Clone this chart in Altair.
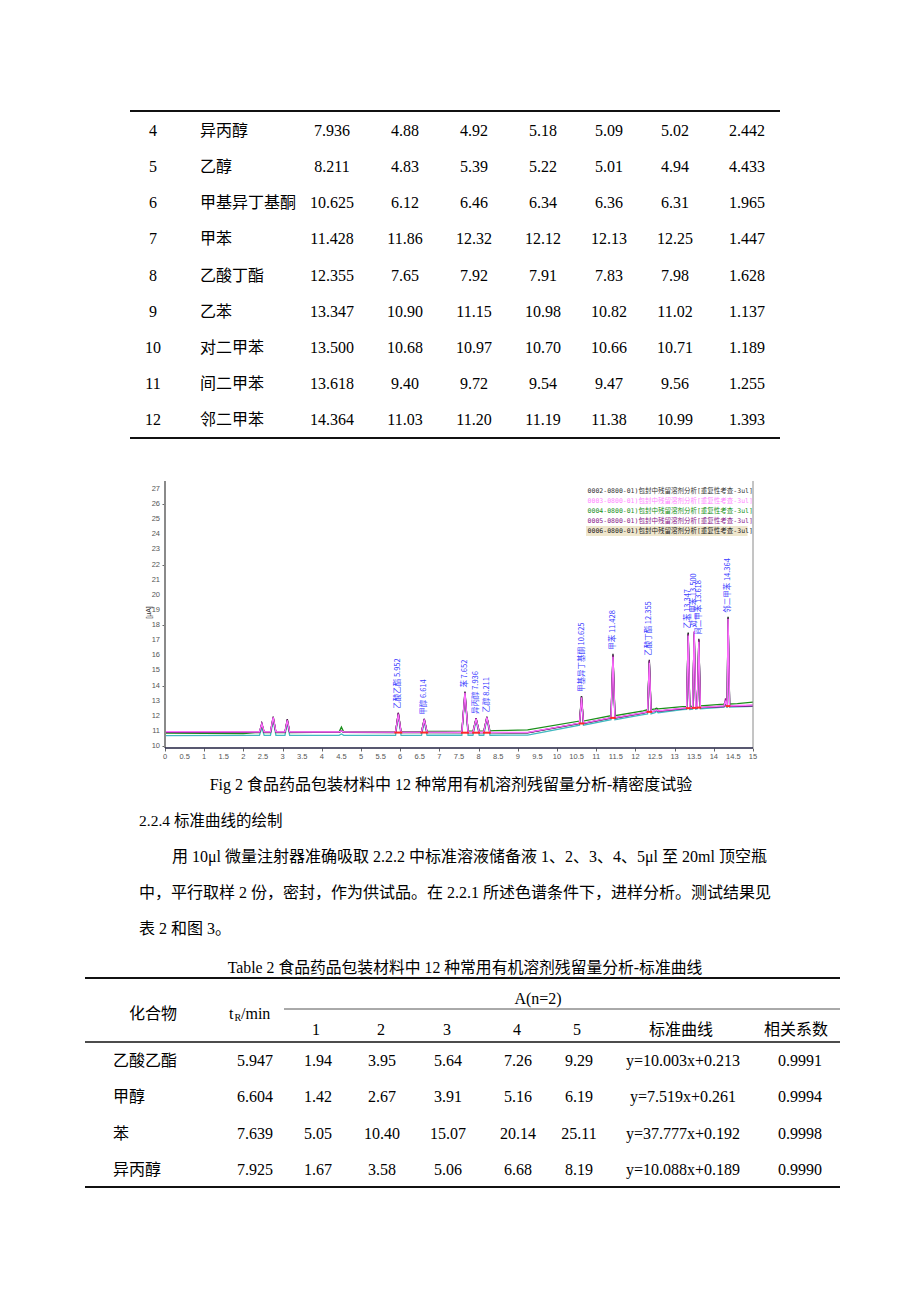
import altair as alt
import pandas as pd

SERIF = "Liberation Serif, Noto Sans CJK SC"
CJK = "Noto Sans CJK SC"
MONO = "DejaVu Sans Mono, Noto Sans CJK SC"
W = 904

# ---------------- Table 1 (continued) ----------------
t1_no = ["4", "5", "6", "7", "8", "9", "10", "11", "12"]
t1_name = ["异丙醇", "乙醇", "甲基异丁基酮", "甲苯", "乙酸丁酯", "乙苯", "对二甲苯", "间二甲苯", "邻二甲苯"]
t1_tr = ["7.936", "8.211", "10.625", "11.428", "12.355", "13.347", "13.500", "13.618", "14.364"]
t1_r1 = ["4.88", "4.83", "6.12", "11.86", "7.65", "10.90", "10.68", "9.40", "11.03"]
t1_r2 = ["4.92", "5.39", "6.46", "12.32", "7.92", "11.15", "10.97", "9.72", "11.20"]
t1_r3 = ["5.18", "5.22", "6.34", "12.12", "7.91", "10.98", "10.70", "9.54", "11.19"]
t1_r4 = ["5.09", "5.01", "6.36", "12.13", "7.83", "10.82", "10.66", "9.47", "11.38"]
t1_r5 = ["5.02", "4.94", "6.31", "12.25", "7.98", "11.02", "10.71", "9.56", "10.99"]
t1_rsd = ["2.442", "4.433", "1.965", "1.447", "1.628", "1.137", "1.189", "1.255", "1.393"]

# ---------------- Chromatogram ----------------
legend_texts = [
    "0002-0800-01)包封中残留溶剂分析[重复性考查-3ul]",
    "0003-0800-01)包封中残留溶剂分析[重复性考查-3ul]",
    "0004-0800-01)包封中残留溶剂分析[重复性考查-3ul]",
    "0005-0800-01)包封中残留溶剂分析[重复性考查-3ul]",
    "0006-0800-01)包封中残留溶剂分析[重复性考查-3ul]",
]
legend_colors = ["#333333", "#ff88ff", "#1a8f1a", "#8a1a8a", "#222222"]
trace_colors = {"0002": "#40b8c0", "0003": "#ff70ff", "0004": "#1a8f1a",
                "0005": "#8a1a8a", "0006": "#202020"}

# baseline knots (time, value)
base_t = {
    "0002": [0, 2.3, 9.25, 12.2, 13.2, 14.6, 15],
    "0003": [0, 2.3, 9.25, 12.2, 13.2, 14.6, 15],
    "0004": [0, 2.0, 2.3, 8.4, 9.25, 12.2, 13.2, 14.6, 15],
    "0005": [0, 2.3, 9.25, 12.2, 13.2, 14.6, 15],
    "0006": [0, 2.3, 9.25, 12.2, 13.2, 14.6, 15],
}
base_v = {
    "0002": [10.68, 10.70, 10.72, 12.08, 12.40, 12.59, 12.62],
    "0003": [10.95, 10.94, 10.90, 12.21, 12.50, 12.68, 12.70],
    "0004": [10.85, 10.82, 10.88, 11.02, 11.06, 12.33, 12.60, 12.80, 12.90],
    "0005": [10.92, 10.92, 10.88, 12.18, 12.47, 12.63, 12.66],
    "0006": [10.90, 10.90, 10.87, 12.19, 12.47, 12.66, 12.68],
}

peak_t = [2.47, 2.76, 3.12, 4.50, 5.952, 6.614, 7.652, 7.936, 8.211, 10.625,
          11.428, 12.355, 12.54, 13.347, 13.500, 13.618, 14.30, 14.364]
peak_hw = [0.06, 0.07, 0.06, 0.06, 0.07, 0.07, 0.08, 0.08, 0.08, 0.05,
           0.05, 0.045, 0.04, 0.04, 0.04, 0.04, 0.04, 0.04]
peak_top = {
    "0002": [11.20, 11.70, 11.50, 10.80, 12.00, 11.60, 13.40, 11.70, 11.80, 13.10,
             15.80, 15.50, 12.30, 17.30, 17.30, 16.90, 12.80, 18.30],
    "0003": [11.45, 11.90, 11.70, 11.00, 12.10, 11.75, 13.50, 11.80, 11.90, 13.20,
             15.90, 15.50, 12.40, 17.30, 17.60, 16.90, 13.00, 18.40],
    "0004": [11.40, 11.85, 11.70, 11.25, 12.15, 11.75, 13.40, 11.80, 11.90, 13.30,
             16.00, 15.60, 12.50, 17.45, 17.40, 17.00, 12.95, 18.50],
    "0005": [11.50, 11.90, 11.75, 11.00, 12.20, 11.80, 13.55, 11.85, 11.90, 13.25,
             16.00, 15.65, 12.40, 17.40, 17.50, 17.05, 13.15, 18.45],
    "0006": [11.50, 11.95, 11.78, 11.00, 12.20, 11.80, 13.60, 11.85, 11.95, 13.30,
             16.10, 15.70, 12.40, 17.50, 17.55, 17.10, 12.90, 18.55],
}
peak_foot = {
    "0002": [10.70, 10.70, 10.70, 10.70, 10.70, 10.71, 10.71, 10.71, 10.71, 11.38,
             11.74, 12.12, 12.20, 12.42, 12.44, 12.46, 12.57, 12.58],
    "0003": [10.94, 10.94, 10.94, 10.93, 10.92, 10.92, 10.91, 10.91, 10.91, 11.52,
             11.88, 12.27, 12.32, 12.52, 12.54, 12.56, 12.65, 12.66],
    "0004": [10.88, 10.88, 10.89, 10.92, 10.95, 10.96, 10.98, 10.99, 11.00, 11.65,
             12.00, 12.40, 12.45, 12.62, 12.64, 12.66, 12.77, 12.78],
    "0005": [10.92, 10.92, 10.92, 10.91, 10.90, 10.90, 10.89, 10.89, 10.89, 11.50,
             11.86, 12.25, 12.30, 12.50, 12.52, 12.54, 12.61, 12.62],
    "0006": [10.90, 10.90, 10.90, 10.90, 10.89, 10.89, 10.88, 10.88, 10.88, 11.49,
             11.86, 12.26, 12.31, 12.50, 12.52, 12.54, 12.63, 12.64],
}

label_t = [5.952, 6.614, 7.652, 7.936, 8.211, 10.625, 11.428, 12.355, 13.347, 13.500, 13.618, 14.364]
label_top = [12.20, 11.80, 13.60, 11.85, 11.95, 13.30, 16.10, 15.70, 17.50, 17.55, 17.10, 18.55]
label_foot = [10.89, 10.89, 10.88, 10.88, 10.88, 11.49, 11.86, 12.26, 12.50, 12.52, 12.54, 12.64]
label_hw = [0.10, 0.10, 0.10, 0.10, 0.10, 0.07, 0.07, 0.07, 0.06, 0.06, 0.06, 0.06]
label_txt = ["乙酸乙酯 5.952", "甲醇 6.614", "苯 7.652", "异丙醇 7.936", "乙醇 8.211",
             "甲基异丁基酮 10.625", "甲苯 11.428", "乙酸丁酯 12.355", "乙苯 13.347",
             "对二甲苯 13.500", "间二甲苯 13.618", "邻二甲苯 14.364"]

x_ticks = [0, 0.5, 1, 1.5, 2, 2.5, 3, 3.5, 4, 4.5, 5, 5.5, 6, 6.5, 7, 7.5,
           8, 8.5, 9, 9.5, 10, 10.5, 11, 11.5, 12, 12.5, 13, 13.5, 14, 14.5, 15]
x_tick_labels = ["0", "0.5", "1", "1.5", "2", "2.5", "3", "3.5", "4", "4.5", "5", "5.5",
                 "6", "6.5", "7", "7.5", "8", "8.5", "9", "9.5", "10", "10.5", "11",
                 "11.5", "12", "12.5", "13", "13.5", "14", "14.5", "15"]
y_ticks = [10, 11, 12, 13, 14, 15, 16, 17, 18, 19, 20, 21, 22, 23, 24, 25, 26, 27]
y_tick_labels = [str(v) for v in y_ticks]

# ---------------- Table 2 ----------------
t2_name = ["乙酸乙酯", "甲醇", "苯", "异丙醇"]
t2_tr = ["5.947", "6.604", "7.639", "7.925"]
t2_a1 = ["1.94", "1.42", "5.05", "1.67"]
t2_a2 = ["3.95", "2.67", "10.40", "3.58"]
t2_a3 = ["5.64", "3.91", "15.07", "5.06"]
t2_a4 = ["7.26", "5.16", "20.14", "6.68"]
t2_a5 = ["9.29", "6.19", "25.11", "8.19"]
t2_eq = ["y=10.003x+0.213", "y=7.519x+0.261", "y=37.777x+0.192", "y=10.088x+0.189"]
t2_r = ["0.9991", "0.9994", "0.9998", "0.9990"]
t2_sub = ["1", "2", "3", "4", "5", "标准曲线", "相关系数"]

caption = "Fig 2 食品药品包装材料中 12 种常用有机溶剂残留量分析-精密度试验"
heading = "2.2.4  标准曲线的绘制"
para = ["用 10μl 微量注射器准确吸取 2.2.2 中标准溶液储备液 1、2、3、4、5μl 至 20ml 顶空瓶",
        "中，平行取样 2 份，密封，作为供试品。在 2.2.1 所述色谱条件下，进样分析。测试结果见",
        "表 2 和图 3。"]
t2_title = "Table 2  食品药品包装材料中 12 种常用有机溶剂残留量分析-标准曲线"


# ---------------- helpers ----------------
def one():
    return pd.DataFrame({"k": [0]})


def column(values, xpage, yscale, align="center", font=SERIF, size=16):
    df = pd.DataFrame({"row": list(range(len(values))), "txt": values})
    return alt.Chart(df).mark_text(align=align, baseline="middle", font=font,
                                   fontSize=size, color="#000").encode(
        x=alt.value(xpage - 8),
        y=alt.Y("row:O", scale=yscale, axis=None),
        text="txt:N")


def hrule(ypage, x1, x2, yoff, width=1.5, color="#111"):
    return alt.Chart(one()).mark_rule(color=color, strokeWidth=width).encode(
        x=alt.value(x1 - 8), x2=alt.value(x2 - 8), y=alt.value(ypage - yoff))


def free(txt, xpage, ypage, yoff, align="left", size=16, font=SERIF, color="#000"):
    return alt.Chart(pd.DataFrame({"t": [txt]})).mark_text(
        align=align, baseline="middle", font=font, fontSize=size, color=color).encode(
        x=alt.value(xpage - 8), y=alt.value(ypage - yoff), text="t:N")


# ---------------- Panel A: table 1 ----------------
yA = alt.Scale(type="point", domain=list(range(9)), range=[123, 412], padding=0)
A_layers = [
    hrule(111, 130, 780, 8, 2),
    column(t1_no, 153, yA),
    column(t1_name, 200, yA, align="left", font=CJK),
    column(t1_tr, 332, yA),
    column(t1_r1, 405, yA),
    column(t1_r2, 474, yA),
    column(t1_r3, 543, yA),
    column(t1_r4, 609, yA),
    column(t1_r5, 675, yA),
    column(t1_rsd, 747, yA),
    hrule(438, 130, 780, 8, 2),
]
panelA = alt.layer(*A_layers).properties(width=W, height=462)

# ---------------- Panel B: chromatogram ----------------
xs = alt.Scale(domain=[-4.0051, 19.0561], nice=False, zero=False)
ys = alt.Scale(domain=[8.4125, 28.256], nice=False, zero=False)
xaxis = alt.Axis(values=x_ticks, labels=False, domain=False, grid=False, offset=-22,
                 tickSize=3, tickColor="#666", title=None)
yaxis = alt.Axis(values=y_ticks, labels=False, domain=False, grid=False, offset=-157,
                 tickSize=3, tickColor="#666",
                 title="[µA]", titleFontSize=7, titleFont="Liberation Sans",
                 titleColor="#333", titleFontWeight="normal", titleAngle=270,
                 titleX=-17, titleY=142, titleAlign="center", titleBaseline="middle")

order = ["0002", "0004", "0006", "0005", "0003"]
B_main = []
for tid in order:
    pts = list(zip(base_t[tid], base_v[tid]))
    for t, hw, top, foot in zip(peak_t, peak_hw, peak_top[tid], peak_foot[tid]):
        pts += [(t - hw, foot), (t, top), (t + hw, foot)]
    pts.sort()
    df = pd.DataFrame(pts, columns=["t", "v"])
    B_main.append(alt.Chart(df).mark_line(color=trace_colors[tid], strokeWidth=1.3).encode(
        x=alt.X("t:Q", scale=xs, axis=xaxis), y=alt.Y("v:Q", scale=ys, axis=yaxis)))

# integration markers
mk = pd.DataFrame({"t": label_t, "hw": label_hw, "v": label_foot})
B_main.append(alt.Chart(mk).transform_calculate(t0="datum.t - datum.hw", t1="datum.t + datum.hw")
              .mark_rule(color="#ff2a2a", strokeWidth=2)
              .encode(x=alt.X("t0:Q", scale=xs, axis=xaxis), x2="t1:Q",
                      y=alt.Y("v:Q", scale=ys, axis=yaxis)))

# peak labels
lab = pd.DataFrame({"t": label_t, "v": label_top, "txt": label_txt})
B_main.append(alt.Chart(lab).mark_text(angle=270, align="left", baseline="middle", dx=4,
                                       font=CJK, fontSize=7.5, color="#3c3cff")
              .encode(x=alt.X("t:Q", scale=xs, axis=xaxis),
                      y=alt.Y("v:Q", scale=ys, axis=yaxis), text="txt:N"))

# tick labels (from the tick lists)
xl = pd.DataFrame({"t": x_ticks, "lab": x_tick_labels})
B_main.append(alt.Chart(xl).mark_text(baseline="middle", align="center", dy=9,
                                      font="Liberation Sans", fontSize=7.5, color="#555")
              .encode(x=alt.X("t:Q", scale=xs, axis=xaxis), y=alt.datum(9.868), text="lab:N"))
yl = pd.DataFrame({"v": y_ticks, "lab": y_tick_labels})
B_main.append(alt.Chart(yl).mark_text(baseline="middle", align="right", dx=-5,
                                      font="Liberation Sans", fontSize=7.5, color="#555")
              .encode(x=alt.datum(0), y=alt.Y("v:Q", scale=ys, axis=yaxis), text="lab:N"))

# frame lines
B_main.append(alt.Chart(one()).mark_rule(color="#8a8a8a", strokeWidth=2).encode(
    x=alt.datum(0), y=alt.datum(9.868), y2=alt.datum(27.53)))
B_main.append(alt.Chart(one()).mark_rule(color="#8a8a8a", strokeWidth=1).encode(
    x=alt.datum(15), y=alt.datum(9.868), y2=alt.datum(27.53)))
B_main.append(alt.Chart(one()).mark_rule(color="#202040", strokeWidth=1.5).encode(
    x=alt.datum(0), x2=alt.datum(15), y=alt.datum(9.868)))

main_layer = alt.layer(*B_main)

leg = pd.DataFrame({"idx": list(range(5)), "txt": legend_texts, "col": legend_colors})
ly = alt.Scale(domain=[0, 4], range=[21, 61], nice=False, zero=False)
leg_rect = alt.Chart(leg).transform_filter("datum.idx == 4").transform_calculate(
    lo="datum.idx - 0.5", hi="datum.idx + 0.5").mark_rect(color="#efe6cc").encode(
    x=alt.datum(10.74), x2=alt.datum(14.86),
    y=alt.Y("lo:Q", scale=ly, axis=None), y2="hi:Q")
leg_text = alt.Chart(leg).mark_text(align="left", baseline="middle", font=MONO,
                                    fontSize=6.5).encode(
    x=alt.datum(10.78), y=alt.Y("idx:Q", scale=ly, axis=None),
    text="txt:N", color=alt.Color("col:N", scale=None))
legend_layer = alt.layer(leg_rect, leg_text)

panelB = alt.layer(main_layer, legend_layer).resolve_scale(y="independent").properties(
    width=W, height=300)

# ---------------- Panel C: caption, text, table 2 ----------------
C0 = 770
yC = alt.Scale(type="point", domain=list(range(4)), range=[291, 400], padding=0)
C_layers = [
    free(caption, 451, 785, C0, align="center", size=16),
    free(heading, 139, 821, C0, size=15.5),
    free(para[0], 172, 857, C0, size=16),
    free(para[1], 139, 893, C0, size=16),
    free(para[2], 139, 929, C0, size=16),
    free(t2_title, 465, 968, C0, align="center", size=15.8),
    hrule(978, 85, 840, C0, 2),
    free("化合物", 153, 1014, C0, align="center", font=CJK),
    free("t", 229, 1014, C0),
    free("R", 234.5, 1018, C0, size=10),
    free("/min", 241, 1014, C0),
    free("A(n=2)", 538, 999, C0, align="center"),
    hrule(1009, 284, 840, C0, 1, "#555"),
    free(t2_sub[0], 316, 1030, C0, align="center"),
    free(t2_sub[1], 381, 1030, C0, align="center"),
    free(t2_sub[2], 447, 1030, C0, align="center"),
    free(t2_sub[3], 517, 1030, C0, align="center"),
    free(t2_sub[4], 577, 1030, C0, align="center"),
    free(t2_sub[5], 681, 1030, C0, align="center", font=CJK),
    free(t2_sub[6], 796, 1030, C0, align="center", font=CJK),
    hrule(1042, 85, 840, C0, 1.5),
    column(t2_name, 113, yC, align="left", font=CJK),
    column(t2_tr, 255, yC),
    column(t2_a1, 318, yC),
    column(t2_a2, 382, yC),
    column(t2_a3, 448, yC),
    column(t2_a4, 518, yC),
    column(t2_a5, 579, yC),
    column(t2_eq, 683, yC),
    column(t2_r, 800, yC),
    hrule(1187, 85, 840, C0, 2),
]
panelC = alt.layer(*C_layers).properties(width=W, height=510)

chart = alt.vconcat(panelA, panelB, panelC, spacing=0).properties(
    padding=0, background="white").configure_view(stroke=None)

chart.save("out.html", embed_options={"renderer": "svg", "actions": False})
